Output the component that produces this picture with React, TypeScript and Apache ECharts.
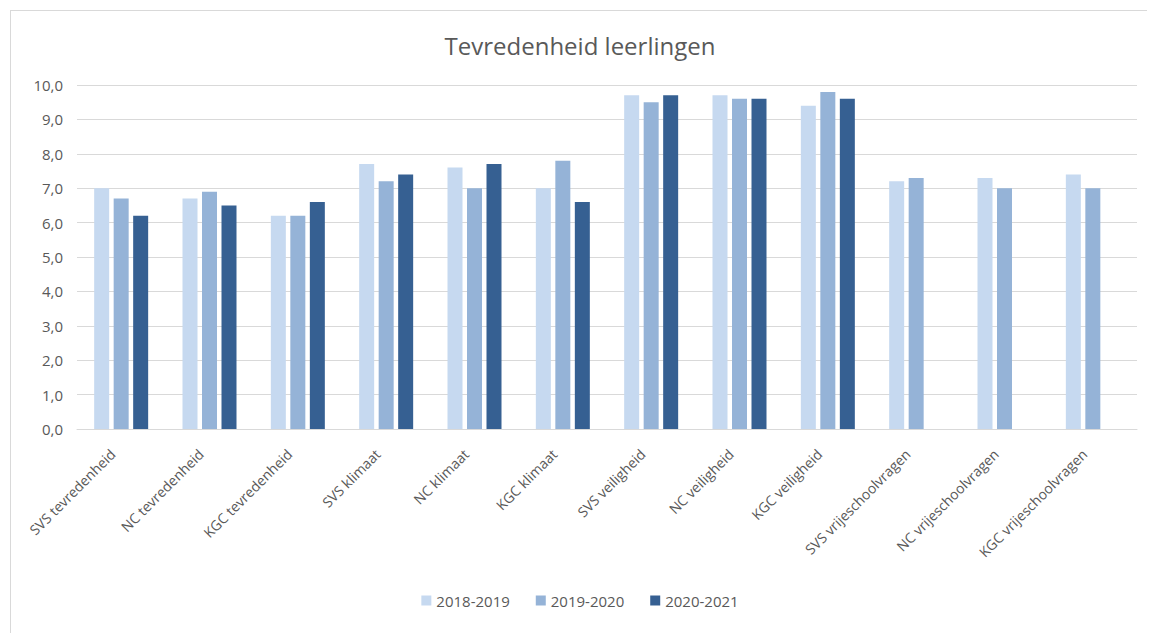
import React, { useEffect, useRef } from "react";
import * as echarts from "echarts";

const categories = [
  "SVS tevredenheid",
  "NC tevredenheid",
  "KGC tevredenheid",
  "SVS klimaat",
  "NC klimaat",
  "KGC klimaat",
  "SVS veiligheid",
  "NC veiligheid",
  "KGC veiligheid",
  "SVS vrijeschoolvragen",
  "NC vrijeschoolvragen",
  "KGC vrijeschoolvragen",
];
const seriesNames = ["2018-2019", "2019-2020", "2020-2021"];
const s2018 = [7.0, 6.7, 6.2, 7.7, 7.6, 7.0, 9.7, 9.7, 9.4, 7.2, 7.3, 7.4];
const s2019 = [6.7, 6.9, 6.2, 7.2, 7.0, 7.8, 9.5, 9.6, 9.8, 7.3, 7.0, 7.0];
const s2020 = [6.2, 6.5, 6.6, 7.4, 7.7, 6.6, 9.7, 9.6, 9.6, null, null, null];
const colors = ["#C6D9F0", "#95B3D7", "#366092"];

export default function App() {
  const ref = useRef<HTMLDivElement>(null);
  useEffect(() => {
    if (!ref.current) return;
    const chart = echarts.init(ref.current, null, { renderer: "svg" });
    const font = "Open Sans, Liberation Sans, sans-serif";
    const data = [s2018, s2019, s2020];
    chart.setOption({
      animation: false,
      textStyle: { fontFamily: font },
      title: {
        text: "Tevredenheid leerlingen",
        left: "center",
        top: 17,
        textStyle: { fontSize: 24, fontWeight: "normal", color: "#595959", fontFamily: font },
      },
      legend: {
        data: seriesNames,
        bottom: 20,
        left: "center",
        itemWidth: 10,
        itemHeight: 10,
        itemGap: 26,
        icon: "rect",
        textStyle: { fontSize: 15, color: "#595959", fontFamily: font },
      },
      grid: { left: 66, right: 12, top: 74, bottom: 204, containLabel: false },
      xAxis: {
        type: "category",
        data: categories,
        axisLine: { lineStyle: { color: "#D9D9D9" } },
        axisTick: { show: false },
        axisLabel: {
          rotate: 45,
          interval: 0,
          color: "#595959",
          fontSize: 14,
          margin: 14,
          padding: [0, 12, 0, 0],
          fontFamily: font,
        },
      },
      yAxis: {
        type: "value",
        min: 0,
        max: 10,
        interval: 1,
        axisLine: { show: false },
        axisTick: { show: false },
        splitLine: { lineStyle: { color: "#D9D9D9" } },
        axisLabel: {
          formatter: (v: number) => v.toFixed(1).replace(".", ","),
          color: "#595959",
          fontSize: 15,
          margin: 14,
          fontFamily: font,
        },
      },
      series: seriesNames.map((name, i) => ({
        name,
        type: "bar",
        data: data[i],
        barWidth: 15,
        barGap: "30%",
        barCategoryGap: "40%",
        itemStyle: { color: colors[i] },
      })),
    });
    return () => chart.dispose();
  }, []);
  return (
    <div
      style={{
        marginLeft: 2,
        marginTop: 2,
        width: 1138,
        height: 622,
        border: "1px solid #D9D9D9",
        background: "#fff",
      }}
    >
      <div ref={ref} style={{ width: 1138, height: 622 }} />
    </div>
  );
}
